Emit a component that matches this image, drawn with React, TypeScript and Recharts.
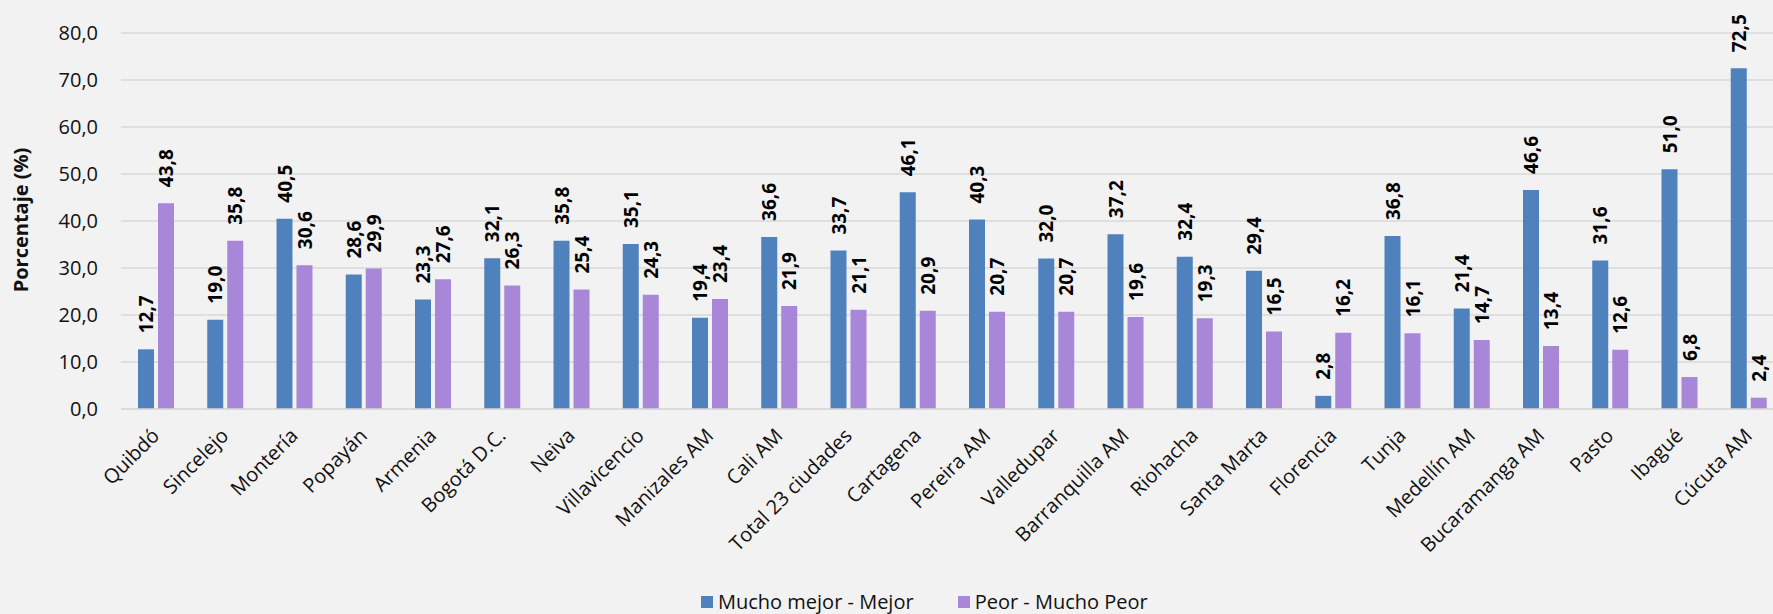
import { BarChart, Bar, XAxis, YAxis, CartesianGrid, Legend, LabelList, Label } from "recharts"

const ciudades = [
  "Quibdó", "Sincelejo", "Montería", "Popayán", "Armenia", "Bogotá D.C.", "Neiva", "Villavicencio",
  "Manizales AM", "Cali AM", "Total 23 ciudades", "Cartagena", "Pereira AM", "Valledupar",
  "Barranquilla AM", "Riohacha", "Santa Marta", "Florencia", "Tunja", "Medellín AM",
  "Bucaramanga AM", "Pasto", "Ibagué", "Cúcuta AM"
]

const mejor = [12.7, 19.0, 40.5, 28.6, 23.3, 32.1, 35.8, 35.1, 19.4, 36.6, 33.7, 46.1, 40.3, 32.0, 37.2, 32.4, 29.4, 2.8, 36.8, 21.4, 46.6, 31.6, 51.0, 72.5]
const peor = [43.8, 35.8, 30.6, 29.9, 27.6, 26.3, 25.4, 24.3, 23.4, 21.9, 21.1, 20.9, 20.7, 20.7, 19.6, 19.3, 16.5, 16.2, 16.1, 14.7, 13.4, 12.6, 6.8, 2.4]

const yTicks = [0, 10, 20, 30, 40, 50, 60, 70, 80]

const data = ciudades.map((c, i) => ({ ciudad: c, mejor: mejor[i], peor: peor[i] }))

const FONT = "'Open Sans', 'Noto Sans', sans-serif"
const AZUL = "#4f81bd"
const MORADO = "#a886d8"

const fmt = (v: number) => v.toFixed(1).replace(".", ",")

const BarLabel = (props: any) => {
  const { x, y, width, value } = props
  const cx = x + width / 2 + 7
  const ty = y - 16
  return (
    <text transform={`translate(${cx},${ty}) rotate(-90)`} textAnchor="start"
      fontSize={19} fontWeight={700} fill="#000" fontFamily={FONT}>
      {fmt(value)}
    </text>
  )
}

const CatTick = (props: any) => {
  const { x, payload } = props
  return (
    <text transform={`translate(${x + 5},${437}) rotate(-45)`} textAnchor="end"
      fontSize={20} fill="#111" fontFamily={FONT}>
      {payload.value}
    </text>
  )
}

const LegendBox = (props: any) => {
  const { payload } = props
  return (
    <div style={{ display: "flex", alignItems: "center", fontFamily: FONT, fontSize: 20, color: "#111" }}>
      {payload.map((p: any, i: number) => (
        <div key={i} style={{ display: "flex", alignItems: "center", marginRight: 44 }}>
          <span style={{ width: 12, height: 12, background: p.color, display: "inline-block", marginRight: 5 }} />
          <span>{p.value}</span>
        </div>
      ))}
    </div>
  )
}

export default function App() {
  return (
    <div style={{ position: "fixed", left: 0, top: 0, width: 1773, height: 614, overflow: "hidden", background: "#f2f2f2" }}>
      <BarChart width={1783} height={614} data={data} barSize={16} barGap={4}
        margin={{ top: 33, right: 0, left: 0, bottom: 0 }}>
        <CartesianGrid vertical={false} stroke="#d9d9d9" strokeWidth={1.3} />
        <XAxis dataKey="ciudad" interval={0} height={205} tickLine={false}
          axisLine={{ stroke: "#d9d9d9", strokeWidth: 1.3 }} tick={<CatTick />} />
        <YAxis width={121} domain={[0, 80]} ticks={yTicks} tickFormatter={fmt}
          axisLine={false} tickLine={false} tickSize={0} tickMargin={23}
          tick={{ fontSize: 20, fill: "#111", fontFamily: FONT }}>
          <Label content={() => (
            <text transform="translate(28,220) rotate(-90)" textAnchor="middle"
              fontSize={20} fontWeight={700} fill="#111" fontFamily={FONT}>
              Porcentaje (%)
            </text>
          )} />
        </YAxis>
        <Legend verticalAlign="middle" align="center" layout="horizontal" content={<LegendBox />}
          wrapperStyle={{ position: "absolute", left: 701, top: 588, width: 600 }} />
        <Bar dataKey="mejor" name="Mucho mejor - Mejor" fill={AZUL} isAnimationActive={false}>
          <LabelList dataKey="mejor" content={<BarLabel />} />
        </Bar>
        <Bar dataKey="peor" name="Peor - Mucho Peor" fill={MORADO} isAnimationActive={false}>
          <LabelList dataKey="peor" content={<BarLabel />} />
        </Bar>
      </BarChart>
    </div>
  )
}
